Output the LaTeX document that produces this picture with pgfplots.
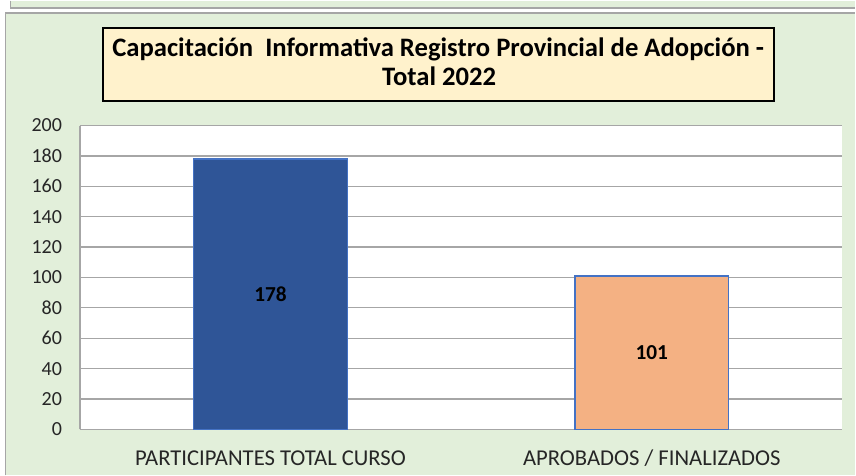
\documentclass[border=0pt]{standalone}
\usepackage{pgfplots}
\pgfplotsset{compat=1.18}
\usepackage{fontspec}
\setmainfont{Carlito}
\definecolor{bggreen}{HTML}{E2EFDA}
\definecolor{framegray}{HTML}{A6A6A6}
\definecolor{gridgray}{HTML}{A6A6A6}
\definecolor{barblue}{HTML}{2F5597}
\definecolor{barorange}{HTML}{F4B183}
\definecolor{edgeblue}{HTML}{4472C4}
\definecolor{titlefill}{HTML}{FFF2CC}
\begin{document}
\begin{tikzpicture}[x=0.75pt,y=0.75pt]
% page
\fill[white] (0,0) rectangle (856,475);
% top strip
\fill[bggreen] (10,468) rectangle (856,475);
\draw[framegray,line width=1pt] (10.5,475) -- (10.5,467.5) -- (856,467.5);
% chart area
\fill[bggreen] (5,0) rectangle (856,463);
\draw[framegray,line width=1pt] (5.5,0) -- (5.5,462.5) -- (856,462.5);
% title box
\draw[black,line width=1.5pt,fill=titlefill] (103,375) rectangle (775,448);
\node[anchor=base,font=\fontsize{20pt}{24pt}\selectfont\bfseries,inner sep=0pt] at (438.5,419)
  {Capacitación\ \ Informativa Registro Provincial de Adopción -};
\node[anchor=base,font=\fontsize{20pt}{24pt}\selectfont\bfseries,inner sep=0pt] at (439.5,390)
  {Total 2022};
\begin{axis}[
  at={(60pt,34.5pt)}, anchor=south west,
  scale only axis, width=572.25pt, height=228pt,
  xmin=-0.5, xmax=1.5, ymin=0, ymax=200,
  ytick={0,20,...,200},
  xtick={0,1},
  xticklabels={PARTICIPANTES TOTAL CURSO, APROBADOS / FINALIZADOS},
  /pgf/number format/assume math mode=true,
  axis background/.style={fill=white},
  axis x line*=bottom, axis y line*=left,
  axis line style={gridgray,line width=0.9pt},
  ymajorgrids, grid style={gridgray,line width=0.9pt},
  major tick length=0pt,
  yticklabel style={font=\fontsize{15pt}{18pt}\selectfont, color=black!85, xshift=-10pt},
  xticklabel style={font=\fontsize{17pt}{20pt}\selectfont, color=black!85, anchor=base, yshift=-27pt},
  ybar, bar width=115.5pt, bar shift=0pt,
  nodes near coords,
  visualization depends on={y \as \rawy},
  every node near coord/.append style={anchor=center, font=\fontsize{16pt}{19pt}\selectfont\bfseries, color=black,
    shift={(axis direction cs:0,-\rawy/2)}},
  clip=false,
]
\addplot[fill=barblue, draw=edgeblue, line width=1.2pt] coordinates {(0,178)};
\addplot[fill=barorange, draw=edgeblue, line width=1.2pt] coordinates {(1,101)};
\draw[gridgray,line width=0.9pt] (axis cs:-0.5,200) -- (axis cs:1.5,200);
\end{axis}
\end{tikzpicture}
\end{document}
